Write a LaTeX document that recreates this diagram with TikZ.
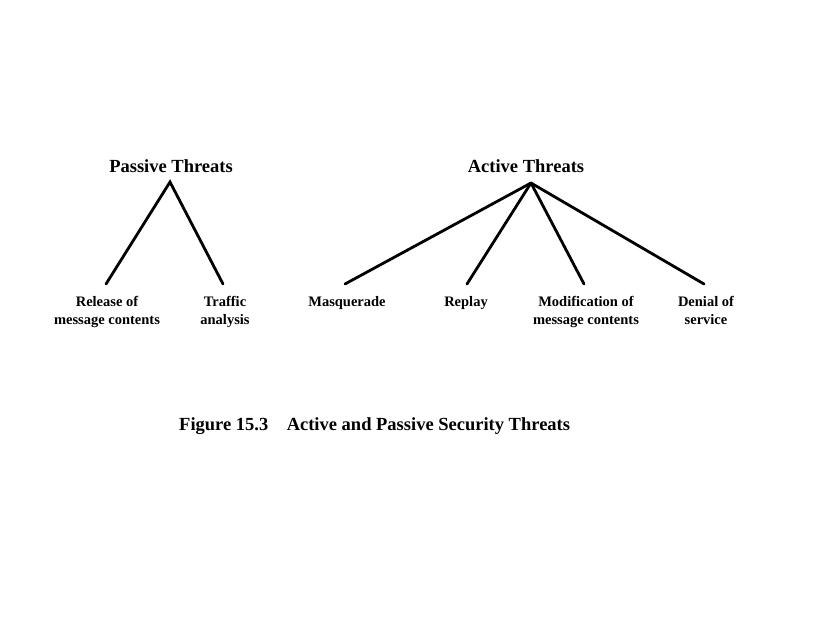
\documentclass[tikz,border=0pt]{standalone}
\usepackage{fontspec}
\setmainfont{Liberation Serif}
\begin{document}
\begin{tikzpicture}[x=1pt,y=-1pt,
  title/.style={font=\fontsize{18.5}{22}\selectfont\bfseries, inner sep=0pt},
  leaf/.style={font=\fontsize{14.5}{18}\selectfont\bfseries, align=center, anchor=north, inner sep=0pt},
  branch/.style={line width=2.8pt, line cap=round}]
\useasboundingbox[fill=white] (0,0) rectangle (824,637);

% titles
\node[title] (pt) at (171,166) {Passive Threats};
\node[title] (at) at (526,166) {Active Threats};

% apexes
\coordinate (pa) at (170,182);
\coordinate (aa) at (531,183);

% leaf labels
\node[leaf] (rel) at (107,296) {Release of\\message contents};
\node[leaf] (tra) at (225,296) {Traffic\\analysis};
\node[leaf] (mas) at (347,296) {Masquerade};
\node[leaf] (rep) at (466,296) {Replay};
\node[leaf] (mod) at (586,296) {Modification of\\message contents};
\node[leaf] (den) at (706,296) {Denial of\\service};

% line ends
\coordinate (e1) at (106,284);
\coordinate (e2) at (223,284);
\coordinate (e3) at (345,284);
\coordinate (e4) at (467,284);
\coordinate (e5) at (584,284);
\coordinate (e6) at (704,284);

\draw[branch] (e1) -- (pa) -- (e2);
\draw[branch] (aa) -- (e3);
\draw[branch] (aa) -- (e4);
\draw[branch] (aa) -- (e5);
\draw[branch] (aa) -- (e6);

% caption
\node[title, anchor=west] (cap) at (179,426) {Figure 15.3\hspace{1em}Active and Passive Security Threats};
\end{tikzpicture}
\end{document}
